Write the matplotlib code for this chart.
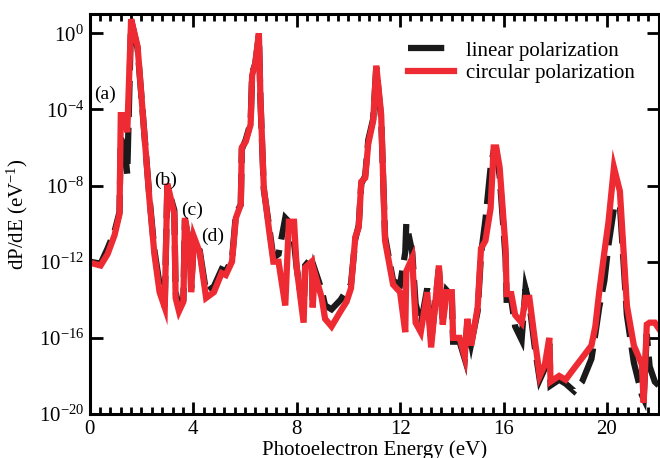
import matplotlib
matplotlib.use("Agg")
import matplotlib.pyplot as plt
from matplotlib.ticker import MultipleLocator, FixedLocator, NullLocator
import numpy as np

plt.rcParams['font.family'] = ['Liberation Serif', 'DejaVu Serif']
plt.rcParams['mathtext.fontset'] = 'custom'
plt.rcParams['mathtext.rm'] = 'Liberation Serif'
plt.rcParams['mathtext.it'] = 'Liberation Serif:italic'

# photoelectron energy (eV)
energy = [0.0, 0.42, 0.69, 0.96, 1.15, 1.2, 1.35, 1.45, 1.6, 1.85,
          2.3, 2.5, 2.7, 2.9, 3.0, 3.27, 3.32, 3.45, 3.62, 3.68,
          3.88, 3.92, 4.03, 4.25, 4.5, 4.8, 5.1, 5.26, 5.5, 5.65,
          5.84, 5.88, 6.03, 6.22, 6.28, 6.4, 6.54, 6.6, 6.73, 6.92,
          7.1, 7.3, 7.56, 7.7, 7.9, 8.0, 8.27, 8.33, 8.58, 8.62,
          8.7, 8.97, 9.1, 9.35, 9.7, 9.93, 10.1, 10.27, 10.4, 10.5,
          10.65, 10.77, 10.96, 11.08, 11.27, 11.42, 11.54, 11.73, 12.0, 12.2,
          12.24, 12.47, 12.6, 12.8, 13.05, 13.2, 13.5, 13.65, 13.8, 14.0,
          14.05, 14.3, 14.5, 14.6, 14.75, 15.0, 15.13, 15.3, 15.5, 15.62,
          15.72, 15.85, 16.08, 16.12, 16.3, 16.45, 16.7, 16.85, 17.0, 17.2,
          17.4, 17.6, 17.77, 17.82, 18.15, 18.4, 18.73, 19.04, 19.4, 19.55,
          19.7, 19.9, 20.06, 20.27, 20.5, 20.77, 21.04, 21.35, 21.42, 21.54,
          21.65, 21.85, 22.0]

# log10 of dP/dE, circular polarization
log_circular = [-12.05, -12.2, -11.6, -10.6, -9.5, -4.3, -4.3, -5.2, 0.74, -0.7,
                -8.6, -11.6, -13.6, -14.4, -7.9, -9.5, -13.9, -14.6, -14.1, -9.7,
                -11.3, -13.6, -10.7, -11.5, -13.9, -13.6, -12.6, -12.7, -12.0, -9.7,
                -9.0, -6.0, -5.7, -4.8, -2.2, -1.6, 0.0, -3.4, -8.1, -10.2,
                -12.0, -12.0, -14.3, -9.9, -9.9, -12.3, -15.2, -12.3, -12.0, -14.4,
                -12.6, -13.9, -15.0, -15.4, -14.6, -14.1, -13.4, -10.7, -10.2, -7.8,
                -7.6, -5.8, -4.6, -1.7, -4.3, -10.9, -11.8, -13.2, -13.6, -15.7,
                -12.5, -11.8, -15.2, -15.7, -13.6, -16.5, -12.2, -15.3, -13.6, -13.6,
                -16.0, -16.0, -17.0, -15.0, -16.4, -14.4, -11.3, -10.9, -9.2, -6.0,
                -6.0, -7.05, -11.3, -13.7, -13.7, -14.8, -15.2, -13.9, -13.9, -16.0,
                -18.0, -17.4, -16.0, -18.3, -18.0, -18.2, -17.6, -17.05, -16.4, -15.4,
                -13.6, -11.5, -9.9, -7.05, -8.3, -14.3, -16.4, -17.4, -19.4, -15.3,
                -15.2, -15.2, -15.5]

# log10 of dP/dE, linear polarization
log_linear = [-12.0, -12.1, -11.3, -10.4, -9.4, -5.5, -6.0, -7.4, 0.7, -0.8,
              -8.5, -11.4, -13.2, -14.2, -8.0, -9.3, -13.6, -14.4, -14.0, -9.8,
              -11.2, -13.4, -10.8, -11.4, -13.6, -13.3, -12.4, -12.5, -11.9, -9.5,
              -9.0, -6.1, -5.6, -4.7, -2.1, -1.6, -0.1, -3.5, -8.2, -10.0,
              -11.8, -11.6, -9.7, -9.9, -11.0, -12.3, -14.8, -12.2, -11.8, -14.0,
              -12.4, -13.5, -14.3, -14.5, -14.0, -13.5, -13.2, -10.8, -10.1, -7.9,
              -7.5, -5.6, -4.5, -1.8, -4.5, -10.7, -11.6, -13.0, -13.2, -11.5,
              -10.0, -11.5, -14.2, -15.3, -13.4, -16.2, -12.4, -15.0, -13.5, -13.8,
              -16.2, -16.2, -17.1, -15.2, -16.3, -14.6, -11.6, -9.8, -7.05, -6.2,
              -6.2, -7.5, -11.8, -14.0, -14.0, -15.4, -16.1, -13.4, -14.2, -16.4,
              -18.2, -17.6, -16.3, -18.5, -18.2, -18.4, -18.8, -18.3, -17.1, -15.8,
              -14.4, -13.0, -11.1, -9.2, -9.0, -14.8, -17.3, -19.0, -19.2, -15.8,
              -17.5, -18.3, -18.5]

labels = ['(a)', '(b)', '(c)', '(d)']
label_pos = [(0.026, 0.80), (0.134, 0.585), (0.179, 0.51), (0.216, 0.445)]

fig = plt.figure(figsize=(6.6, 4.58), dpi=100)
ax = fig.add_axes([0.136, 0.096, 0.862, 0.873])

e = np.array(energy)
ax.plot(e, 10.0 ** np.array(log_linear), color='#1a1a1a', lw=4.5,
        linestyle=(0, (5.8, 1.7)), label='linear polarization',
        solid_joinstyle='miter', dash_joinstyle='miter')
ax.plot(e, 10.0 ** np.array(log_circular), color='#ee2a32', lw=4.5,
        label='circular polarization', solid_joinstyle='miter')

ax.set_yscale('log')
ax.set_xlim(0, 22)
ax.set_ylim(1e-20, 1e1)

ax.xaxis.set_major_locator(MultipleLocator(4))
ax.xaxis.set_minor_locator(MultipleLocator(0.4))
ax.yaxis.set_major_locator(FixedLocator([10.0 ** k for k in range(-20, 1, 4)]))
ax.yaxis.set_minor_locator(NullLocator())

ax.tick_params(which='both', direction='in', top=True, right=True,
               labelsize=15, width=2, pad=4)
ax.tick_params(which='major', length=9)
ax.tick_params(which='minor', length=5)
for sp in ax.spines.values():
    sp.set_linewidth(2.2)

ax.set_xlabel('Photoelectron Energy (eV)', fontsize=15, labelpad=1)
ax.set_ylabel('dP/dE (eV$^{-1}$)', fontsize=15, labelpad=6)

for t, (fx, fy) in zip(labels, label_pos):
    ax.text(fx, fy, t, transform=ax.transAxes, fontsize=14,
            ha='center', va='center')

ax.legend(loc='upper right', frameon=False, fontsize=15, handlelength=2.2,
          handletextpad=0.6, labelspacing=0.15, borderaxespad=0.6,
          bbox_to_anchor=(0.995, 0.985))

fig.savefig('out.png', dpi=100)
